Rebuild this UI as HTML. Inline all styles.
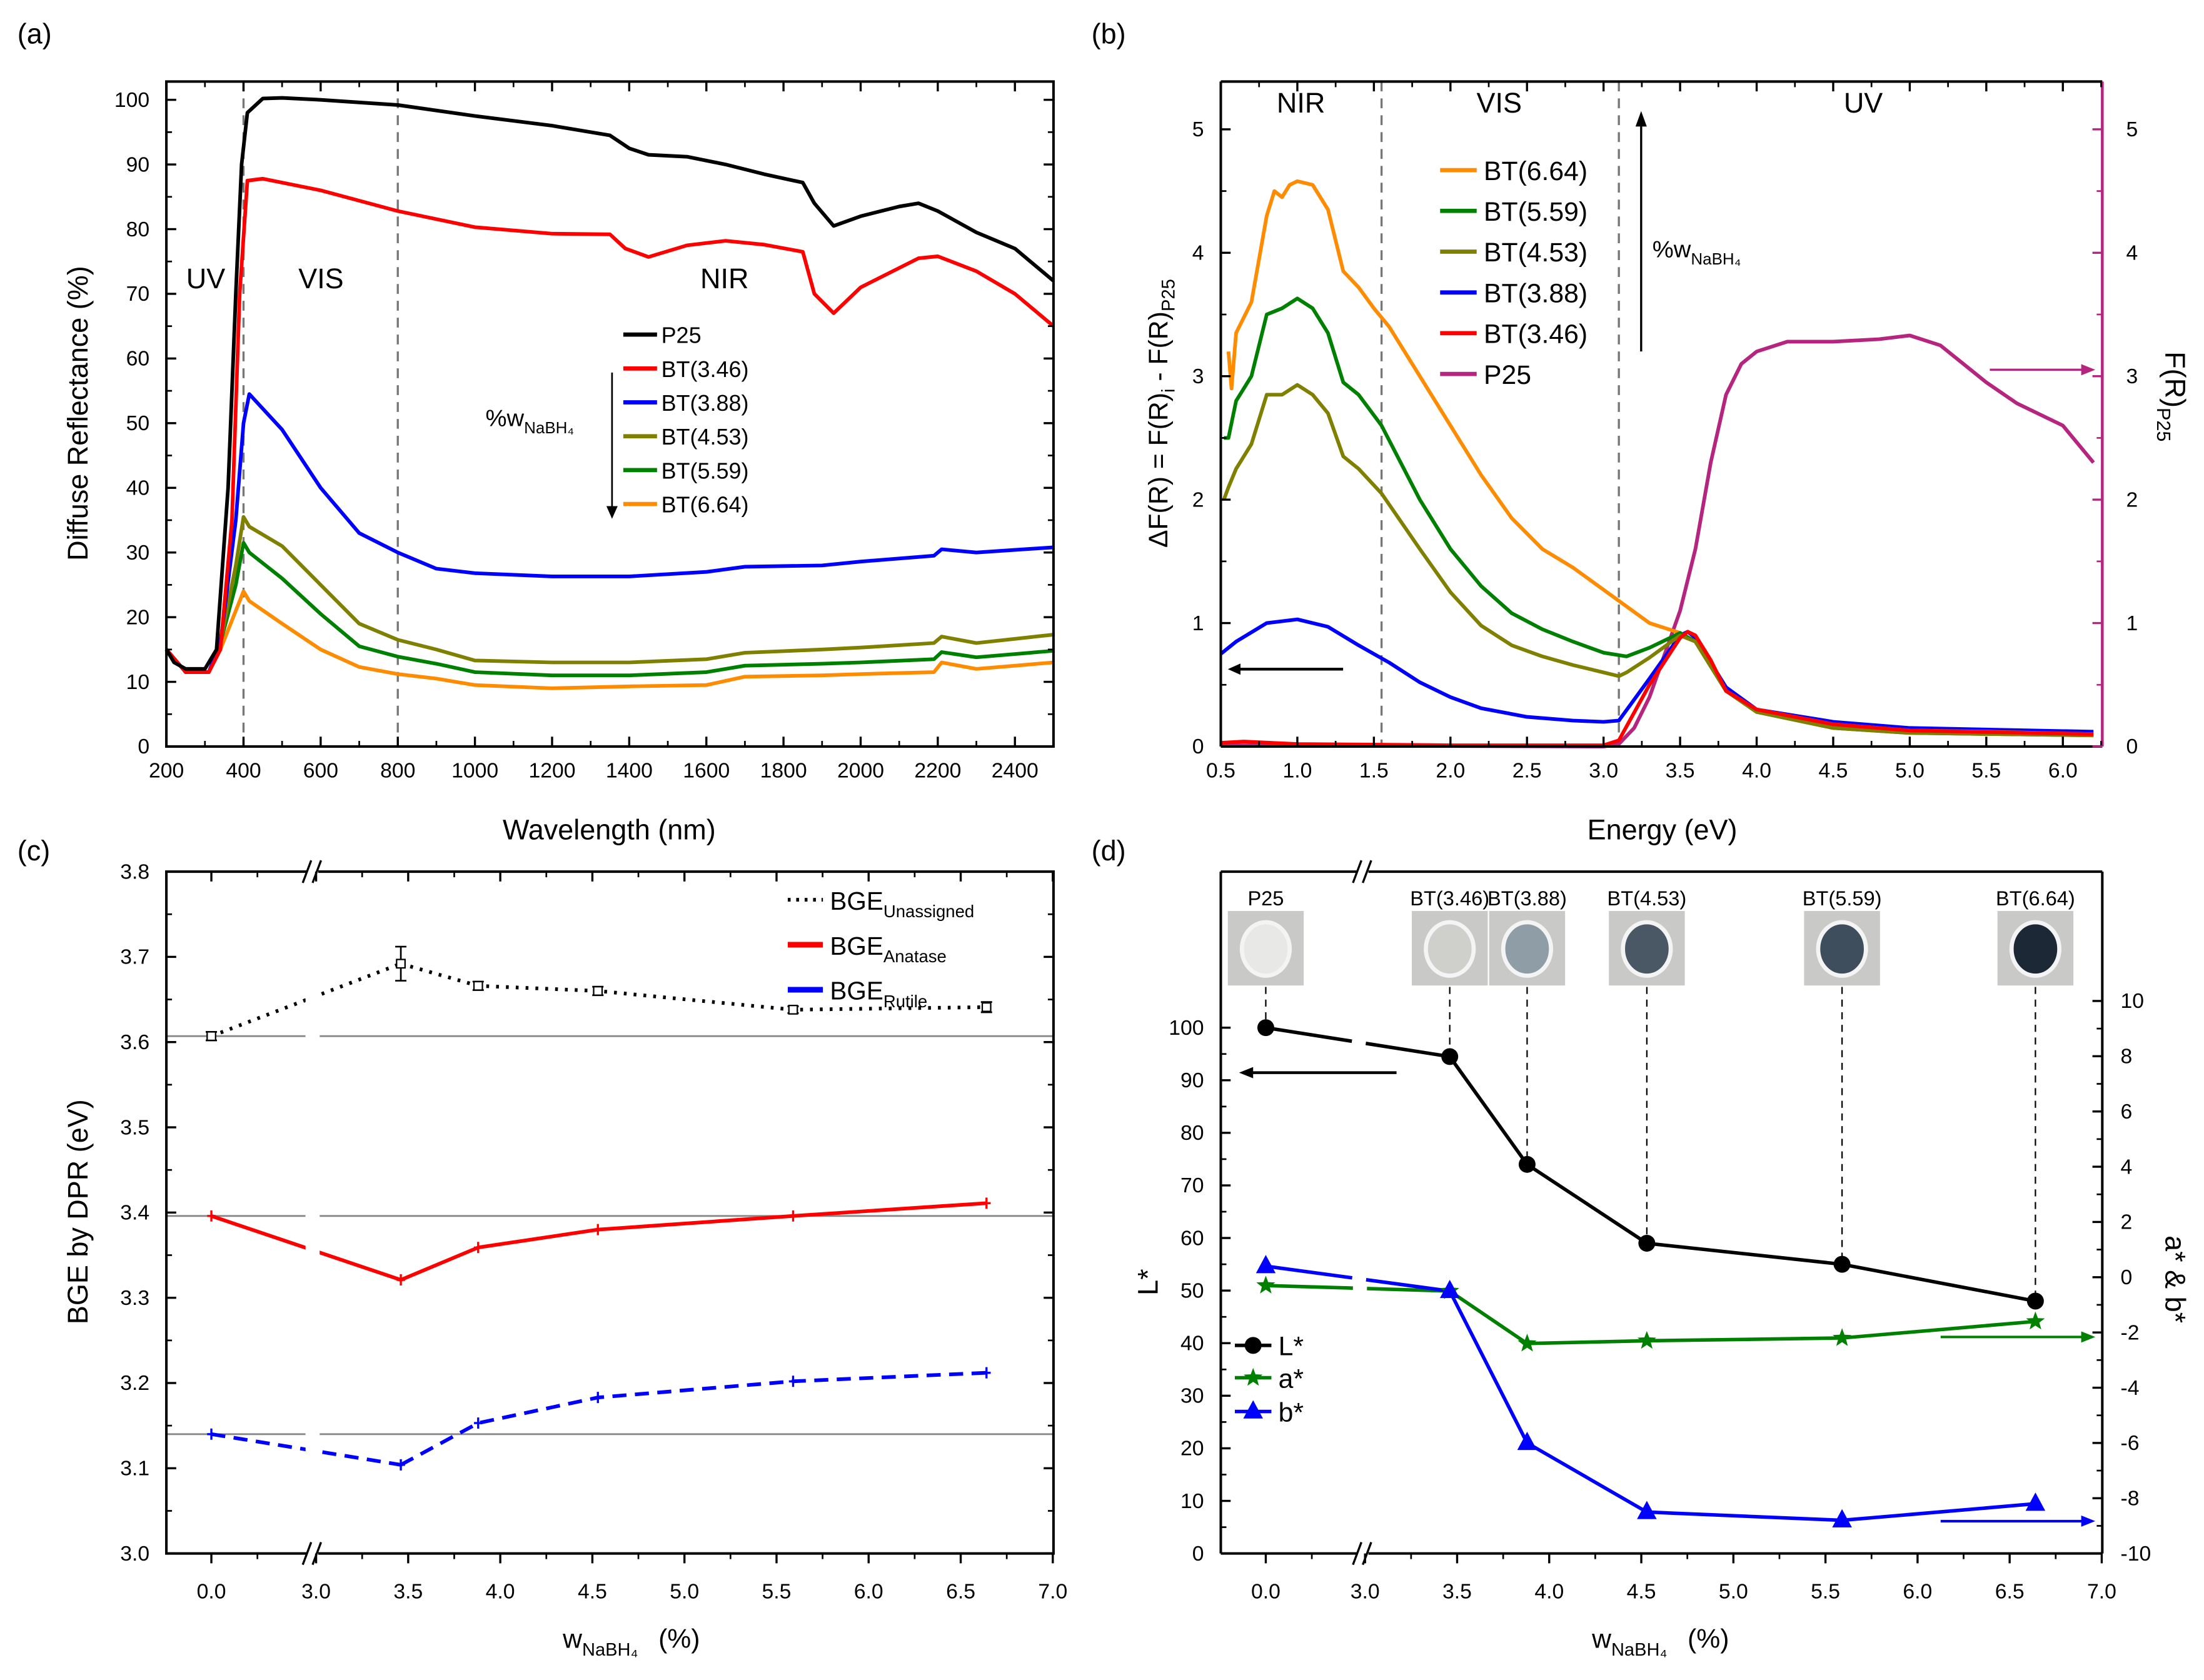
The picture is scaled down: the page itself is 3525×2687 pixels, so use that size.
<!DOCTYPE html>
<html><head><meta charset="utf-8"><style>
html,body{margin:0;padding:0;background:#fff}
svg{display:block}
text{font-family:"Liberation Sans",Arial,sans-serif;fill:#000}
</style></head><body>
<svg id="fig" xmlns="http://www.w3.org/2000/svg" width="3525" height="2687" viewBox="0 0 1567 1195"></svg>
<script>
// ---------- Panel (a) data ----------
const aWl_P25=[200,220,250,300,330,360,380,395,410,450,500,600,800,1000,1200,1350,1400,1450,1550,1650,1750,1850,1880,1930,2000,2100,2150,2200,2300,2400,2500];
const aR_P25=[15,13,12,12,15,40,70,90,98,100.2,100.3,100,99.2,97.5,96,94.5,92.5,91.5,91.2,90,88.5,87.2,84,80.5,82,83.5,84,82.8,79.5,77,72];
const aWl_346=[200,250,310,340,370,390,410,450,600,800,1000,1200,1350,1390,1450,1550,1650,1750,1850,1880,1930,2000,2150,2200,2300,2400,2500];
const aR_346=[15,11.5,11.5,15,35,70,87.5,87.8,86,82.8,80.3,79.3,79.2,77,75.7,77.5,78.2,77.6,76.5,70,67,71,75.5,75.8,73.5,70,65];
const aWl_lo=[200,250,310,340,380,400,415,500,600,700,800,900,1000,1200,1400,1600,1700,1900,2000,2190,2210,2300,2500];
const aR_388=[15,11.5,11.5,16,35,50,54.5,49,40,33,30,27.5,26.8,26.3,26.3,27,27.8,28,28.6,29.5,30.5,30,30.8];
const aR_453=[15,11.5,11.5,16,28,35.5,34,31,25,19,16.5,15,13.3,13,13,13.5,14.5,15,15.3,16,17,16,17.3];
const aR_559=[15,11.5,11.5,16,25,31.5,30,26,20.5,15.5,13.9,12.8,11.5,11,11,11.5,12.5,12.8,13,13.5,14.6,13.8,14.8];
const aR_664=[15,11.5,11.5,15,21,24,22.5,19,15,12.3,11.2,10.5,9.5,9,9.3,9.5,10.8,11,11.2,11.5,13,12,13];
const aXTicks=[200,400,600,800,1000,1200,1400,1600,1800,2000,2200,2400];
const aYTicks=[0,10,20,30,40,50,60,70,80,90,100];
// ---------- Panel (b) data ----------
const bE_664=[0.55,0.57,0.6,0.7,0.8,0.85,0.9,0.95,1.0,1.1,1.2,1.3,1.4,1.5,1.6,1.8,2.0,2.2,2.4,2.6,2.8,3.0,3.1,3.3,3.5,3.6,3.8,4.0,4.5,5.0,5.5,6.2];
const bF_664=[3.2,2.9,3.35,3.6,4.3,4.5,4.45,4.55,4.58,4.55,4.35,3.85,3.72,3.55,3.4,3.0,2.6,2.2,1.85,1.6,1.45,1.27,1.18,1.0,0.92,0.85,0.45,0.3,0.18,0.13,0.12,0.1];
const bE_mid=[0.52,0.55,0.6,0.7,0.8,0.9,1.0,1.1,1.2,1.3,1.4,1.55,1.8,2.0,2.2,2.4,2.6,2.8,3.0,3.1,3.15,3.3,3.5,3.6,3.8,4.0,4.5,5.0,6.2];
const bF_559=[2.5,2.5,2.8,3.0,3.5,3.55,3.63,3.55,3.35,2.95,2.85,2.6,2.0,1.6,1.3,1.08,0.95,0.85,0.76,0.74,0.73,0.8,0.92,0.85,0.45,0.28,0.15,0.11,0.09];
const bF_453=[2.0,2.1,2.25,2.45,2.85,2.85,2.93,2.85,2.7,2.35,2.25,2.05,1.6,1.25,0.98,0.82,0.73,0.66,0.6,0.57,0.6,0.72,0.9,0.85,0.45,0.28,0.15,0.11,0.09];
const bE_388=[0.5,0.6,0.8,1.0,1.2,1.4,1.6,1.8,2.0,2.2,2.5,2.8,3.0,3.1,3.3,3.5,3.55,3.6,3.8,4.0,4.5,5.0,6.2];
const bF_388=[0.75,0.85,1.0,1.03,0.97,0.82,0.68,0.52,0.4,0.31,0.24,0.21,0.2,0.21,0.55,0.9,0.93,0.88,0.48,0.3,0.2,0.15,0.12];
const bE_346=[0.5,0.65,1.0,2.0,3.0,3.1,3.3,3.5,3.55,3.6,3.7,3.8,4.0,4.5,5.0,6.2];
const bF_346=[0.03,0.04,0.02,0.01,0.01,0.05,0.5,0.88,0.93,0.9,0.7,0.45,0.3,0.18,0.13,0.1];
const bE_P25=[0.5,3.0,3.1,3.2,3.3,3.4,3.5,3.6,3.7,3.8,3.9,4.0,4.2,4.5,4.8,5.0,5.2,5.4,5.5,5.7,6.0,6.1,6.2];
const bF_P25=[0.01,0,0.02,0.15,0.4,0.75,1.1,1.6,2.3,2.85,3.1,3.2,3.28,3.28,3.3,3.33,3.25,3.05,2.95,2.78,2.6,2.45,2.3];
const bXTicks=[0.5,1.0,1.5,2.0,2.5,3.0,3.5,4.0,4.5,5.0,5.5,6.0];
const bYTicks=[0,1,2,3,4,5];
// ---------- Panel (c) data ----------
const cW=[0,3.46,3.88,4.53,5.59,6.64];
const cUnassigned=[3.607,3.692,3.666,3.660,3.638,3.641];
const cUnassErr=[0.005,0.02,0.005,0.005,0.004,0.006];
const cAnatase=[3.396,3.321,3.359,3.380,3.396,3.411];
const cRutile=[3.140,3.104,3.153,3.183,3.202,3.212];
const cYTicks=[3.0,3.1,3.2,3.3,3.4,3.5,3.6,3.7,3.8];
const xTicksBroken=[0.0,3.0,3.5,4.0,4.5,5.0,5.5,6.0,6.5,7.0];
// ---------- Panel (d) data ----------
const dW=[0,3.46,3.88,4.53,5.59,6.64];
const dL=[100,94.5,74,59,55,48];
const dA=[-0.3,-0.5,-2.4,-2.3,-2.2,-1.6];
const dB=[0.4,-0.5,-6.0,-8.5,-8.8,-8.2];
const dLabels=["P25","BT(3.46)","BT(3.88)","BT(4.53)","BT(5.59)","BT(6.64)"];
const dColors=["#e8e8e6","#cfd0cc","#8f9ea6","#4a5866","#3e4e5c","#1c2836"];
const dLTicks=[0,10,20,30,40,50,60,70,80,90,100];
const dRTicks=[-10,-8,-6,-4,-2,0,2,4,6,8,10];

const S=document.getElementById('fig');
const NS='http://www.w3.org/2000/svg';
function el(tag,attrs,parent,txt){const e=document.createElementNS(NS,tag);for(const k in attrs)e.setAttribute(k,attrs[k]);if(txt!==undefined)e.textContent=txt;(parent||S).appendChild(e);return e;}
function grp(name){const g=document.createElementNS(NS,'g');


S.appendChild(g);return g;}
function pathD(xs,ys,fx,fy){return xs.map((x,i)=>(i?'L':'M')+fx(x).toFixed(2)+','+fy(ys[i]).toFixed(2)).join('');}
function label(g,x,y,t,size,anchor,fill,rot){const a={x:x,y:y,'font-size':size,'text-anchor':anchor||'middle'};if(fill)a.fill=fill;if(rot)a.transform='rotate('+rot+' '+x+' '+y+')';return el('text',a,g,t);}
function sub(g,x,y,main,subt,size,anchor,rot,fill){const a={x:x,y:y,'font-size':size,'text-anchor':anchor||'start'};if(fill)a.fill=fill;if(rot)a.transform='rotate('+rot+' '+x+' '+y+')';const t=el('text',a,g);
const t1=el('tspan',{},t,main);const t2=el('tspan',{'font-size':size*0.68,dy:size*0.3},t,subt);return t;}

// ================= Panel (a) =================
{
const g=grp('panel-a');
const X0=118,X1=749,Y0=58,Y1=531;
const fx=v=>X0+(v-200)*(X1-X0)/2300, fy=v=>Y1-v*4.6;
label(g,12,31,'(a)',20,'start');
el('line',{x1:fx(400),y1:Y0,x2:fx(400),y2:Y1,stroke:'#777','stroke-width':1.5,'stroke-dasharray':'7,5',},g);
el('line',{x1:fx(800),y1:Y0,x2:fx(800),y2:Y1,stroke:'#777','stroke-width':1.5,'stroke-dasharray':'7,5',},g);
label(g,146,205,'UV',20);label(g,228,205,'VIS',20);label(g,515,205,'NIR',20);
const series=[[aWl_lo,aR_664,'#ff8c00','bt664'],[aWl_lo,aR_559,'#008000','bt559'],[aWl_lo,aR_453,'#808000','bt453'],[aWl_lo,aR_388,'#0000ff','bt388'],[aWl_346,aR_346,'#ff0000','bt346'],[aWl_P25,aR_P25,'#000000','p25']];
series.forEach(s=>{const p=el('path',{d:pathD(s[0],s[1],fx,fy),fill:'none',stroke:s[2],'stroke-width':2.6,'stroke-linejoin':'round'},g);

});
el('rect',{x:X0,y:Y0,width:X1-X0,height:Y1-Y0,fill:'none',stroke:'#000','stroke-width':1.8},g);
aXTicks.forEach(v=>{const x=fx(v);el('line',{x1:x,y1:Y1,x2:x,y2:Y1-7,stroke:'#000','stroke-width':1.5},g);el('line',{x1:x,y1:Y0,x2:x,y2:Y0+7,stroke:'#000','stroke-width':1.5},g);
const xm=fx(v+100);if(v+100<2500){el('line',{x1:xm,y1:Y1,x2:xm,y2:Y1-4,stroke:'#000','stroke-width':1.2},g);el('line',{x1:xm,y1:Y0,x2:xm,y2:Y0+4,stroke:'#000','stroke-width':1.2},g);}
const t=label(g,x,553,String(v),15);});
aYTicks.forEach(v=>{const y=fy(v);el('line',{x1:X0,y1:y,x2:X0+7,y2:y,stroke:'#000','stroke-width':1.5},g);el('line',{x1:X1,y1:y,x2:X1-7,y2:y,stroke:'#000','stroke-width':1.5},g);
const ym=fy(v+5);if(ym>Y0){el('line',{x1:X0,y1:ym,x2:X0+4,y2:ym,stroke:'#000','stroke-width':1.2},g);el('line',{x1:X1,y1:ym,x2:X1-4,y2:ym,stroke:'#000','stroke-width':1.2},g);}
label(g,106,y+5,String(v),15,'end');});
label(g,433,597,'Wavelength (nm)',20);
label(g,62,294,'Diffuse Reflectance (%)',20,'middle',null,-90);
const leg=[['P25','#000'],['BT(3.46)','#ff0000'],['BT(3.88)','#0000ff'],['BT(4.53)','#808000'],['BT(5.59)','#008000'],['BT(6.64)','#ff8c00']];
leg.forEach((l,i)=>{const y=238+i*24.1;el('line',{x1:443,y1:y,x2:467,y2:y,stroke:l[1],'stroke-width':3},g);label(g,470,y+6,l[0],16,'start');});
el('line',{x1:435,y1:265,x2:435,y2:362,stroke:'#000','stroke-width':1.2},g);el('path',{d:'M431,360 L439,360 L435,369 Z',fill:'#000'},g);
sub(g,345,303,'%w','NaBH\u2084',17,'start');
}
// ================= Panel (b) =================
{
const g=grp('panel-b');
const X0=868,X1=1495,Y0=58,Y1=531;
const fx=v=>X0+(v-0.5)*108.9, fy=v=>Y1-v*87.8;
label(g,776,31,'(b)',20,'start');
[1.55,3.1].forEach(v=>el('line',{x1:fx(v),y1:Y0,x2:fx(v),y2:Y1,stroke:'#777','stroke-width':1.5,'stroke-dasharray':'7,5'},g));
label(g,925,80,'NIR',20);label(g,1066,80,'VIS',20);label(g,1325,80,'UV',20);
const series=[[bE_P25,bF_P25,'#b5247f','p25'],[bE_388,bF_388,'#0000ff','bt388'],[bE_664,bF_664,'#ff8c00','bt664'],[bE_mid,bF_559,'#008000','bt559'],[bE_mid,bF_453,'#808000','bt453'],[bE_346,bF_346,'#ff0000','bt346']];
series.forEach(s=>{const p=el('path',{d:pathD(s[0],s[1],fx,fy),fill:'none',stroke:s[2],'stroke-width':2.6,'stroke-linejoin':'round'},g);

});
el('line',{x1:X0,y1:Y0,x2:X1,y2:Y0,stroke:'#000','stroke-width':1.8},g);
el('line',{x1:X0,y1:Y1,x2:X1,y2:Y1,stroke:'#000','stroke-width':1.8},g);
el('line',{x1:X0,y1:Y0,x2:X0,y2:Y1,stroke:'#000','stroke-width':1.8},g);
el('line',{x1:X1,y1:Y0,x2:X1,y2:Y1,stroke:'#b5247f','stroke-width':2},g);
bXTicks.forEach(v=>{const x=fx(v);el('line',{x1:x,y1:Y1,x2:x,y2:Y1-7,stroke:'#000','stroke-width':1.5},g);el('line',{x1:x,y1:Y0,x2:x,y2:Y0+7,stroke:'#000','stroke-width':1.5},g);
const xm=fx(v+0.25);el('line',{x1:xm,y1:Y1,x2:xm,y2:Y1-4,stroke:'#000','stroke-width':1.2},g);el('line',{x1:xm,y1:Y0,x2:xm,y2:Y0+4,stroke:'#000','stroke-width':1.2},g);
label(g,x,553,v.toFixed(1),15);});
bYTicks.forEach(v=>{const y=fy(v);el('line',{x1:X0,y1:y,x2:X0+7,y2:y,stroke:'#000','stroke-width':1.5},g);el('line',{x1:X1,y1:y,x2:X1-7,y2:y,stroke:'#b5247f','stroke-width':1.5},g);
const ym=fy(v+0.5);if(ym>Y0){el('line',{x1:X0,y1:ym,x2:X0+4,y2:ym,stroke:'#000','stroke-width':1.2},g);el('line',{x1:X1,y1:ym,x2:X1-4,y2:ym,stroke:'#b5247f','stroke-width':1.2},g);}
label(g,856,y+5,String(v),15,'end');label(g,1512,y+5,String(v),15,'start','#b5247f');});
label(g,1182,597,'Energy (eV)',20);
const t=el('text',{x:830,y:294,'font-size':19,'text-anchor':'middle',transform:'rotate(-90 830 294)'},g);
el('tspan',{},t,'\u0394F(R) = F(R)');el('tspan',{'font-size':13,dy:5},t,'i');el('tspan',{dy:-5},t,' - F(R)');el('tspan',{'font-size':13,dy:5},t,'P25');
sub(g,1540,250,'F(R)','P25',20,'start',90,'#b5247f');
const leg=[['BT(6.64)','#ff8c00'],['BT(5.59)','#008000'],['BT(4.53)','#808000'],['BT(3.88)','#0000ff'],['BT(3.46)','#ff0000'],['P25','#b5247f']];
leg.forEach((l,i)=>{const y=121+i*29;el('line',{x1:1024,y1:y,x2:1050,y2:y,stroke:l[1],'stroke-width':3},g);label(g,1055,y+7,l[0],19,'start');});
el('line',{x1:1167,y1:250,x2:1167,y2:88,stroke:'#000','stroke-width':1.5},g);el('path',{d:'M1163,90 L1171,90 L1167,79 Z',fill:'#000'},g);
sub(g,1175,183,'%w','NaBH\u2084',17,'start');
el('line',{x1:955,y1:476,x2:880,y2:476,stroke:'#000','stroke-width':2},g);el('path',{d:'M882,472 L882,480 L873,476 Z',fill:'#000'},g);
el('line',{x1:1415,y1:263,x2:1482,y2:263,stroke:'#b5247f','stroke-width':1.5},g);el('path',{d:'M1480,259 L1480,267 L1490,263 Z',fill:'#b5247f'},g);
}
// broken axis helper
function brokenFx(x0,zeroX){return v=>v<1?x0+v*131:zeroX+(v-3)*131;}
// ================= Panel (c) =================
{
const g=grp('panel-c');
const X0=118,X1=749,Y0=620,Y1=1105;
const fx=brokenFx(150,224.5), fy=v=>Y1-(v-3.0)*606.25;
const BX=221;
label(g,12,612,'(c)',20,'start');
[3.607,3.396,3.140].forEach(v=>{el('line',{x1:X0,y1:fy(v),x2:X1,y2:fy(v),stroke:'#888','stroke-width':1.3},g);});
el('rect',{x:BX-4,y:Y0+2,width:10,height:Y1-Y0-4,fill:'#fff'},g);
function seg(vals,col,dash,w,name){[[0,1],[1,6]].forEach(r=>{const xs=cW.slice(r[0]===0?0:1,r[1]===1?2:6),ys=vals.slice(r[0]===0?0:1,r[1]===1?2:6);
const p=el('path',{d:pathD(xs,ys,fx,fy),fill:'none',stroke:col,'stroke-width':w,'stroke-dasharray':dash},g);

});}
seg(cUnassigned,'#000','2,5',2.6,'line-unassigned');
seg(cAnatase,'#ff0000','none',2.6,'line-anatase');
seg(cRutile,'#0000ff','10,6',2.6,'line-rutile');
el('rect',{x:BX-4,y:Y0+2,width:10,height:Y1-Y0-4,fill:'#fff'},g);
cW.forEach((w,i)=>{const x=fx(w);const e=cUnassErr[i];el('path',{d:`M${x},${fy(cUnassigned[i]+e)}V${fy(cUnassigned[i]-e)}M${x-4},${fy(cUnassigned[i]+e)}h8M${x-4},${fy(cUnassigned[i]-e)}h8`,stroke:'#000','stroke-width':1.2,fill:'none'},g);
el('rect',{x:x-3,y:fy(cUnassigned[i])-3,width:6,height:6,fill:'#fff',stroke:'#000','stroke-width':1},g);
el('path',{d:`M${x-3},${fy(cAnatase[i])}h6M${x},${fy(cAnatase[i])-4}v8`,stroke:'#ff0000','stroke-width':1.5},g);
el('path',{d:`M${x-3},${fy(cRutile[i])}h6M${x},${fy(cRutile[i])-4}v8`,stroke:'#0000ff','stroke-width':1.5},g);});
el('rect',{x:X0,y:Y0,width:X1-X0,height:Y1-Y0,fill:'none',stroke:'#000','stroke-width':1.8},g);
el('rect',{x:BX-3,y:Y0-2,width:8,height:5,fill:'#fff'},g);el('rect',{x:BX-3,y:Y1-2,width:8,height:5,fill:'#fff'},g);
[Y0,Y1].forEach(y=>el('path',{d:`M${BX-6},${y+8}L${BX},${y-8}M${BX+1},${y+8}L${BX+7},${y-8}`,stroke:'#000','stroke-width':1.5},g));
xTicksBroken.forEach(v=>{const x=fx(v);el('line',{x1:x,y1:Y1,x2:x,y2:Y1+7,stroke:'#000','stroke-width':1.5},g);el('line',{x1:x,y1:Y0,x2:x,y2:Y0+7,stroke:'#000','stroke-width':1.5},g);
if(v>=3.5||v===0){const xm=fx(v===0?0.25:v-0.25);el('line',{x1:xm,y1:Y1,x2:xm,y2:Y1+4,stroke:'#000','stroke-width':1.2},g);el('line',{x1:xm,y1:Y0,x2:xm,y2:Y0+4,stroke:'#000','stroke-width':1.2},g);}
label(g,x,1137,v.toFixed(1),15);});
cYTicks.forEach(v=>{const y=fy(v);el('line',{x1:X0,y1:y,x2:X0+7,y2:y,stroke:'#000','stroke-width':1.5},g);el('line',{x1:X1,y1:y,x2:X1-7,y2:y,stroke:'#000','stroke-width':1.5},g);
if(v<3.79){const ym=fy(v+0.05);el('line',{x1:X0,y1:ym,x2:X0+4,y2:ym,stroke:'#000','stroke-width':1.2},g);el('line',{x1:X1,y1:ym,x2:X1-4,y2:ym,stroke:'#000','stroke-width':1.2},g);}
label(g,106,y+5,v.toFixed(1),15,'end');});
sub(g,400,1172,'w','NaBH\u2084',19,'start');label(g,468,1172,'(%)',19,'start');
label(g,62,862,'BGE by DPR (eV)',20,'middle',null,-90);
el('line',{x1:560,y1:640,x2:585,y2:640,stroke:'#000','stroke-width':2.6,'stroke-dasharray':'2,4'},g);sub(g,590,647,'BGE','Unassigned',18,'start');
el('line',{x1:560,y1:672,x2:585,y2:672,stroke:'#ff0000','stroke-width':4},g);sub(g,590,679,'BGE','Anatase',18,'start');
el('line',{x1:560,y1:704,x2:585,y2:704,stroke:'#0000ff','stroke-width':4},g);sub(g,590,711,'BGE','Rutile',18,'start');
}
// ================= Panel (d) =================
{
const g=grp('panel-d');
const X0=868,X1=1495,Y0=620,Y1=1105;
const fx=brokenFx(900,970.6), fy=v=>Y1-v*3.74, fr=v=>908.5-v*19.65;
const BX=968;
label(g,776,612,'(d)',20,'start');
dW.forEach((w,i)=>{const x=fx(w);const gx=grp('sample-photo-'+i);
el('line',{x1:x,y1:702,x2:x,y2:fy(dL[i]),stroke:'#000','stroke-width':1,'stroke-dasharray':'5,4'},g);
el('rect',{x:x-27,y:648,width:54,height:53,fill:'#c9c9c7'},gx);
el('ellipse',{cx:x,cy:675,rx:17,ry:19,fill:dColors[i],stroke:'#f4f4f4','stroke-width':3},gx);
label(gx,x,644,dLabels[i],14.5);});
function line(vals,f,col,w,name,dash){[[0,2],[1,6]].forEach((r,k)=>{const p=el('path',{d:pathD(dW.slice(r[0],r[1]),vals.slice(r[0],r[1]),fx,f),fill:'none',stroke:col,'stroke-width':w},g);
if(k===0)p.setAttribute('stroke-dasharray','62,10,200');

});}
line(dL,fy,'#000',2.5,'line-lstar');line(dA,fr,'#008000',2.5,'line-astar');line(dB,fr,'#0000ff',2.5,'line-bstar');
function star(cx,cy,r,col){let d='';for(let k=0;k<10;k++){const a=-Math.PI/2+k*Math.PI/5,rr=k%2?r*0.42:r;d+=(k?'L':'M')+(cx+rr*Math.cos(a)).toFixed(1)+','+(cy+rr*Math.sin(a)).toFixed(1);}return el('path',{d:d+'Z',fill:col},g);}
dW.forEach((w,i)=>{const x=fx(w);
el('circle',{cx:x,cy:fy(dL[i]),r:6,fill:'#000'},g);
star(x,fr(dA[i]),7,'#008000');
el('path',{d:`M${x},${fr(dB[i])-8}L${x+7},${fr(dB[i])+5}L${x-7},${fr(dB[i])+5}Z`,fill:'#0000ff'},g);});
el('line',{x1:X0,y1:Y0,x2:X1,y2:Y0,stroke:'#000','stroke-width':1.8},g);
el('line',{x1:X0,y1:Y1,x2:X1,y2:Y1,stroke:'#000','stroke-width':1.8},g);
el('line',{x1:X0,y1:Y0,x2:X0,y2:Y1,stroke:'#000','stroke-width':1.8},g);
el('line',{x1:X1,y1:Y0,x2:X1,y2:Y1,stroke:'#000','stroke-width':1.8},g);
el('rect',{x:BX-3,y:Y0-2,width:8,height:5,fill:'#fff'},g);el('rect',{x:BX-3,y:Y1-2,width:8,height:5,fill:'#fff'},g);
[Y0,Y1].forEach(y=>el('path',{d:`M${BX-6},${y+8}L${BX},${y-8}M${BX+1},${y+8}L${BX+7},${y-8}`,stroke:'#000','stroke-width':1.5},g));
xTicksBroken.forEach(v=>{const x=fx(v);el('line',{x1:x,y1:Y1,x2:x,y2:Y1+7,stroke:'#000','stroke-width':1.5},g);
if(v>=3.5||v===0){const xm=fx(v===0?0.25:v-0.25);el('line',{x1:xm,y1:Y1,x2:xm,y2:Y1+4,stroke:'#000','stroke-width':1.2},g);}
label(g,x,1137,v.toFixed(1),15);});
dLTicks.forEach(v=>{const y=fy(v);el('line',{x1:X0,y1:y,x2:X0+7,y2:y,stroke:'#000','stroke-width':1.5},g);
if(v<100){const ym=fy(v+5);el('line',{x1:X0,y1:ym,x2:X0+4,y2:ym,stroke:'#000','stroke-width':1.2},g);}
label(g,856,y+5,String(v),15,'end');});
dRTicks.forEach(v=>{const y=fr(v);el('line',{x1:X1,y1:y,x2:X1-7,y2:y,stroke:'#000','stroke-width':1.5},g);
if(v<10){const ym=fr(v+1);el('line',{x1:X1,y1:ym,x2:X1-4,y2:ym,stroke:'#000','stroke-width':1.2},g);}
label(g,1508,y+5,String(v),15,'start');});
sub(g,1132,1172,'w','NaBH\u2084',19,'start');label(g,1200,1172,'(%)',19,'start');
label(g,823,912,'L*',20,'middle',null,-90);
label(g,1540,910,'a* & b*',20,'middle',null,90);
el('line',{x1:878,y1:957,x2:904,y2:957,stroke:'#000','stroke-width':2.5},g);el('circle',{cx:891,cy:957,r:6,fill:'#000'},g);label(g,909,964,'L*',19,'start');
el('line',{x1:878,y1:980,x2:904,y2:980,stroke:'#008000','stroke-width':2.5},g);star(891,980,7,'#008000');label(g,909,987,'a*',19,'start');
el('line',{x1:878,y1:1004,x2:904,y2:1004,stroke:'#0000ff','stroke-width':2.5},g);el('path',{d:'M891,996L898,1009L884,1009Z',fill:'#0000ff'},g);label(g,909,1011,'b*',19,'start');
el('line',{x1:993,y1:763,x2:890,y2:763,stroke:'#000','stroke-width':2},g);el('path',{d:'M891,759 L891,767 L881,763 Z',fill:'#000'},g);
el('line',{x1:1380,y1:1082,x2:1482,y2:1082,stroke:'#0000ff','stroke-width':1.8},g);el('path',{d:'M1480,1078 L1480,1086 L1490,1082 Z',fill:'#0000ff'},g);
el('line',{x1:1380,y1:951,x2:1482,y2:951,stroke:'#008000','stroke-width':1.8},g);el('path',{d:'M1480,947 L1480,955 L1490,951 Z',fill:'#008000'},g);
}
</script>
</body></html>
